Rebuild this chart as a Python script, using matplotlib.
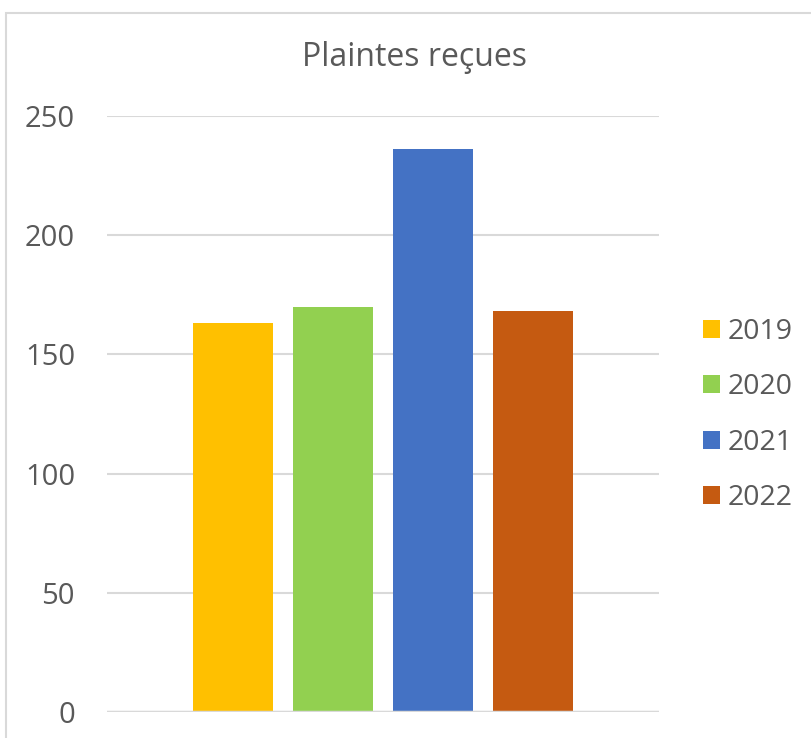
import matplotlib
matplotlib.use("Agg")
import matplotlib.pyplot as plt
from matplotlib.patches import Rectangle

years = ["2019", "2020", "2021", "2022"]
values = [163, 170, 236, 168]
colors = ["#FFC000", "#92D050", "#4472C4", "#C55A11"]
yticks = [0, 50, 100, 150, 200, 250]

plt.rcParams['font.family'] = ['Open Sans', 'DejaVu Sans']
text_color = "#595959"
grid_color = "#D9D9D9"

fig = plt.figure(figsize=(8.11, 7.38), dpi=100)
ax = fig.add_axes([107/811, 1-712/738, (659-107)/811, (712-116)/738])

positions = list(range(len(years)))
handles = []
for p, v, c, y in zip(positions, values, colors, years):
    b = ax.bar(p, v, width=0.8, color=c, label=y, zorder=3)
    handles.append(b)

ax.set_xlim(-1.26, 4.26)
ax.set_ylim(0, 250)
ax.set_yticks(yticks)
ax.set_yticklabels([str(t) for t in yticks])
ax.set_xticks([])
for s in ax.spines.values():
    s.set_visible(False)
ax.yaxis.grid(True, color=grid_color, linewidth=1.5, zorder=0)
ax.tick_params(axis='y', length=0, pad=23, labelsize=21, labelcolor=text_color)
ax.axhline(0, color=grid_color, linewidth=2.5, zorder=4)

fig.text(415/811, 1-57/738, "Plaintes reçues", ha='center', va='center',
         fontsize=23, color=text_color)

leg = fig.legend(handles=handles, labels=years, loc='center left',
                 bbox_to_anchor=(703/811, 1-415/738), frameon=False,
                 fontsize=20.5, handlelength=0.6, handleheight=0.6,
                 handletextpad=0.25, labelspacing=0.96, labelcolor=text_color,
                 borderaxespad=0, borderpad=0)

fig.patches.append(Rectangle((6/811, -0.05), 1.2, 1-13/738+0.05,
                             transform=fig.transFigure, fill=False,
                             edgecolor="#D9D9D9", linewidth=1.5))

fig.savefig("out.png", dpi=100)
